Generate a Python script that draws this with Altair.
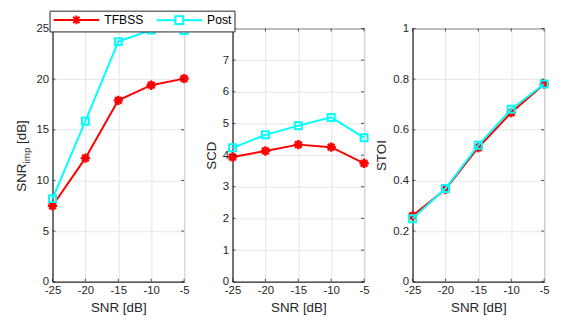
import altair as alt
import pandas as pd

# ---- data ----
snr = [-25, -20, -15, -10, -5]
series_names = ["TFBSS", "Post"]

snr_imp_tfbss = [7.5, 12.2, 17.9, 19.4, 20.05]
snr_imp_post = [8.2, 15.85, 23.7, 24.85, 24.8]

scd_tfbss = [3.94, 4.13, 4.33, 4.25, 3.74]
scd_post = [4.23, 4.64, 4.93, 5.19, 4.55]

stoi_tfbss = [0.26, 0.365, 0.53, 0.668, 0.78]
stoi_post = [0.249, 0.368, 0.539, 0.681, 0.781]

x_ticks = [-25, -20, -15, -10, -5]
y1_ticks = [0, 5, 10, 15, 20, 25]
y2_ticks = [0, 1, 2, 3, 4, 5, 6, 7, 8]
y3_ticks = [0, 0.2, 0.4, 0.6, 0.8, 1]

# title pieces for SNR_imp [dB]
title_main = "SNR"
title_sub = "imp"
title_unit = "[dB]"

RED = "#ff0000"
CYAN = "#00ffff"
FONT = "Liberation Sans"
INK = "#262626"
TFS = 13.5  # title font size

ASTERISK = "M0,-1V1M-1,0H1M-0.7,-0.7L0.7,0.7M-0.7,0.7L0.7,-0.7"
# legend symbols: line + marker (unit = 5px with size 100)
LEG_TF = ("M-1,0H8.2M3.6,-0.9V0.9M2.7,0H4.5M2.96,-0.64L4.24,0.64"
          "M2.96,0.64L4.24,-0.64")
LEG_PO = "M-1,0H2.8M4.4,0H8.2M2.8,-0.8H4.4V0.8H2.8Z"

W, H = 133, 256
TICK = 3


def panel(tf, po, ymax, yticks, ytitle, first=False):
    df = pd.DataFrame({
        "snr": snr + snr,
        "value": tf + po,
        "series": ["TFBSS"] * len(snr) + ["Post"] * len(snr),
    })
    xs = alt.Scale(domain=[-25, -5], nice=False, zero=False)
    ys = alt.Scale(domain=[0, ymax], nice=False)
    xaxis = alt.Axis(values=x_ticks, title="SNR [dB]", labelExpr="toString(datum.value)")
    yaxis = alt.Axis(values=yticks, title=ytitle, labelExpr="toString(datum.value)")
    x = alt.X("snr:Q", scale=xs, axis=xaxis)
    y = alt.Y("value:Q", scale=ys, axis=yaxis)
    base = alt.Chart(df)
    layers = []

    specs = [("TFBSS", RED, ASTERISK, 90, 2.5), ("Post", CYAN, "square", 50, 2)]
    for name, col, shape, size, sw in specs:
        sub = base.transform_filter(alt.datum.series == name)
        layers.append(sub.mark_line(color=col, strokeWidth=2).encode(x=x, y=y))
        layers.append(sub.mark_point(shape=shape, color=col, filled=False, size=size,
                                     strokeWidth=sw, opacity=1).encode(x=x, y=y))

    # inward ticks on all four sides (MATLAB box style)
    xt = alt.Chart(pd.DataFrame({"snr": x_ticks}))
    yt = alt.Chart(pd.DataFrame({"value": yticks}))
    layers.append(xt.mark_rule(color=INK, strokeWidth=0.8).encode(
        x=x, y=alt.value(H), y2=alt.value(H - TICK)))
    layers.append(xt.mark_rule(color=INK, strokeWidth=0.8).encode(
        x=x, y=alt.value(0), y2=alt.value(TICK)))
    layers.append(yt.mark_rule(color=INK, strokeWidth=0.8).encode(
        y=y, x=alt.value(0), x2=alt.value(TICK)))
    layers.append(yt.mark_rule(color=INK, strokeWidth=0.8).encode(
        y=y, x=alt.value(W), x2=alt.value(W - TICK)))

    if first:
        leg = alt.Legend(orient="none", legendX=-3, legendY=-18, direction="horizontal",
                         title=None, strokeColor=INK, fillColor="white", padding=3,
                         labelFont=FONT, labelFontSize=12.3, labelColor="#000000",
                         symbolStrokeWidth=2, symbolSize=100, labelOffset=40,
                         columnPadding=9, cornerRadius=0)
        layers.append(
            base.transform_filter("false").mark_point(filled=False, size=100, strokeWidth=2,
                                                      opacity=1).encode(
                x=x, y=y,
                color=alt.Color("series:N", scale=alt.Scale(domain=series_names, range=[RED, CYAN]),
                                legend=leg),
                shape=alt.Shape("series:N", scale=alt.Scale(domain=series_names, range=[LEG_TF, LEG_PO]),
                                legend=leg),
            )
        )
        # y-axis title with subscript, built from text pieces
        tb = alt.Chart(pd.DataFrame({"k": [0]}))
        base_x = -27
        start_y = H / 2 + 37
        layers.append(tb.mark_text(text=title_main, angle=270, align="left", baseline="alphabetic",
                                   font=FONT, fontSize=TFS, color=INK).encode(
            x=alt.value(base_x), y=alt.value(start_y)))
        layers.append(tb.mark_text(text=title_sub, angle=270, align="left", baseline="alphabetic",
                                   font=FONT, fontSize=10, color=INK).encode(
            x=alt.value(base_x + 4), y=alt.value(start_y - 28.5)))
        layers.append(tb.mark_text(text=title_unit, angle=270, align="left", baseline="alphabetic",
                                   font=FONT, fontSize=TFS, color=INK).encode(
            x=alt.value(base_x), y=alt.value(start_y - 28.5 - 16 - 3.8)))
    return alt.layer(*layers).properties(width=W, height=H)


p1 = panel(snr_imp_tfbss, snr_imp_post, 25, y1_ticks, None, first=True)
p2 = panel(scd_tfbss, scd_post, 8, y2_ticks, "SCD")
p3 = panel(stoi_tfbss, stoi_post, 1, y3_ticks, "STOI")

chart = alt.hconcat(p1, p2, p3, spacing=49, bounds="flush").properties(
    padding={"left": 6, "top": 0, "right": 0, "bottom": 0}
).configure_axis(
    labelFont=FONT, titleFont=FONT, labelFontSize=11.5, titleFontSize=TFS,
    labelColor=INK, titleColor=INK, titleFontWeight="normal",
    domainColor=INK, gridColor="#e6e6e6", ticks=False, labelFlush=False,
    labelPadding=4, titlePadding=4,
).configure_axisX(titlePadding=5, labelPadding=3).configure_view(
    stroke=INK, strokeWidth=1
)

chart.save("out.html", embed_options={"renderer": "svg", "actions": False})
